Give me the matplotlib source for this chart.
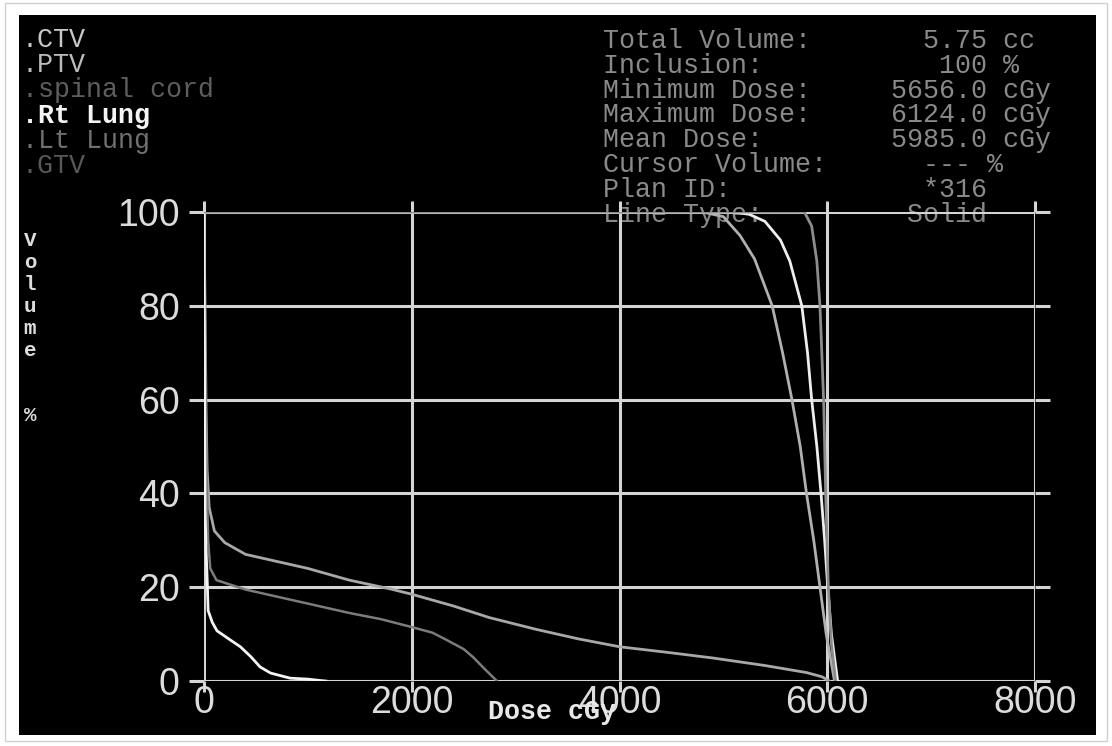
import matplotlib.pyplot as plt
from matplotlib.patches import Rectangle

W, H = 1112, 746

# structure list shown top-left, with its colour
structures = [".CTV", ".PTV", ".spinal cord", ".Rt Lung", ".Lt Lung", ".GTV"]
structure_colors = ["#c8c8c8", "#bcbcbc", "#5e5e5e", "#f4f4f4", "#707070", "#585858"]

# statistics block, top-right
stats_rows = [
    "Total Volume:       5.75 cc",
    "Inclusion:           100 %",
    "Minimum Dose:     5656.0 cGy",
    "Maximum Dose:     6124.0 cGy",
    "Mean Dose:        5985.0 cGy",
    "Cursor Volume:      --- %",
    "Plan ID:            *316",
    "Line Type:         Solid",
]

x_ticks = [0, 2000, 4000, 6000, 8000]
y_ticks = [0, 20, 40, 60, 80, 100]
y_label_chars = ["V", "o", "l", "u", "m", "e", "", "", "%"]

# DVH curves (dose cGy, volume %)
ptv_dose = [0, 4800, 5000, 5160, 5300, 5470, 5570, 5660, 5740, 5800, 5870, 5930, 5990, 6070]
ptv_vol = [100, 100, 99, 95, 90, 80, 70, 60, 50, 40, 30, 20, 10, 0]

ctv_dose = [0, 5100, 5250, 5400, 5550, 5640, 5755, 5810, 5850, 5900, 5940, 5975, 6005, 6040, 6100]
ctv_vol = [100, 100, 99.5, 98, 94, 89.5, 80, 70, 60, 50, 40, 30, 20, 10, 0]

gtv_dose = [0, 5780, 5850, 5900, 5930, 5965, 5985, 6010, 6040, 6080]
gtv_vol = [100, 100, 97, 89.5, 80, 60, 40, 20, 8, 0]

lt_lung_dose = [0, 20, 30, 50, 100, 200, 400, 700, 1000, 1400, 1800, 2000, 2400, 2750,
                3200, 3600, 4000, 4500, 4900, 5400, 5800, 5950, 6020]
lt_lung_vol = [100, 58, 45, 37, 32, 29.5, 27, 25.5, 24, 21.5, 19.6, 18.5, 16, 13.5,
               11, 9, 7.3, 6, 4.9, 3.3, 1.8, 0.9, 0]

cord_dose = [0, 15, 25, 40, 60, 120, 400, 800, 1400, 1700, 2000, 2200, 2340, 2500, 2590, 2700, 2820]
cord_vol = [100, 60, 44, 30, 24, 21.5, 19.5, 17.5, 14.5, 13.2, 11.5, 10.3, 8.7, 6.8, 5.1, 2.6, 0]

rt_lung_dose = [0, 10, 20, 30, 40, 80, 125, 250, 350, 450, 540, 640, 830, 1000, 1120, 1170]
rt_lung_vol = [100, 37, 28, 22, 15, 12.5, 10.7, 8.8, 7.3, 5.2, 3, 1.7, 0.6, 0.4, 0.1, 0]

grid_color = "#d4d4d4"


def px(x, y):
    return x / W, 1 - y / H


fig = plt.figure(figsize=(W / 100, H / 100), dpi=100, facecolor="white")
fig.patches.append(Rectangle(px(5, 741), 1102 / W, 738 / H, transform=fig.transFigure,
                             facecolor="white", edgecolor="#d0d0d0", lw=1, zorder=-20))
fig.patches.append(Rectangle(px(19, 735), 1077 / W, 720 / H, transform=fig.transFigure,
                             facecolor="black", edgecolor="none", zorder=-10))

ax = fig.add_axes([204 / W, (H - 681) / H, (1035 - 204) / W, (681 - 212) / H])
ax.set_facecolor("none")
ax.set_zorder(2)
ax.set_xlim(0, 8000)
ax.set_ylim(0, 100)
for s in ax.spines.values():
    s.set_visible(False)
ax.set_xticks(x_ticks)
ax.set_yticks(y_ticks)
ax.grid(True, color=grid_color, lw=2.2)
ax.tick_params(axis="y", left=True, right=True, length=11, width=2.2, color=grid_color,
               direction="out", pad=6.5, labelsize=27, labelcolor="#dcdcdc")
ax.tick_params(axis="x", bottom=True, top=True, length=8, width=2.2, color=grid_color,
               direction="out", pad=-5, labelsize=27, labelcolor="#dcdcdc")
for lab in ax.get_xticklabels() + ax.get_yticklabels():
    lab.set_fontfamily("Liberation Sans")

ax.plot(lt_lung_dose, lt_lung_vol, color="#a8a8a8", lw=2)
ax.plot(cord_dose, cord_vol, color="#7c7c7c", lw=1.8)
ax.plot(rt_lung_dose, rt_lung_vol, color="#f4f4f4", lw=2)
ax.plot(ptv_dose, ptv_vol, color="#b0b0b0", lw=2)
ax.plot(ctv_dose, ctv_vol, color="#eeeeee", lw=2)
ax.plot(gtv_dose, gtv_vol, color="#8c8c8c", lw=2)

mono = "Liberation Mono"
for i, (name, c) in enumerate(zip(structures, structure_colors)):
    fig.text(*px(22, 40 + i * 25.2), name, color=c, fontsize=19.2, family=mono,
             weight="bold" if name == ".Rt Lung" else "normal", va="center", zorder=1)

for i, row in enumerate(stats_rows):
    fig.text(*px(603, 41 + i * 24.8), row, color="#8a8a8a", fontsize=19.2, family=mono,
             va="center", zorder=1)

for i, ch in enumerate(y_label_chars):
    if ch:
        fig.text(*px(30, 241 + i * 21.8), ch, color="#dcdcdc", fontsize=15,
                 family=mono, weight="bold", ha="center", va="center", zorder=1)
fig.text(*px(488, 712), "Dose cGy", color="#e8e8e8", fontsize=19.2, family=mono,
         weight="bold", va="center", zorder=3)

fig.savefig("out.png", dpi=100, facecolor="white")
